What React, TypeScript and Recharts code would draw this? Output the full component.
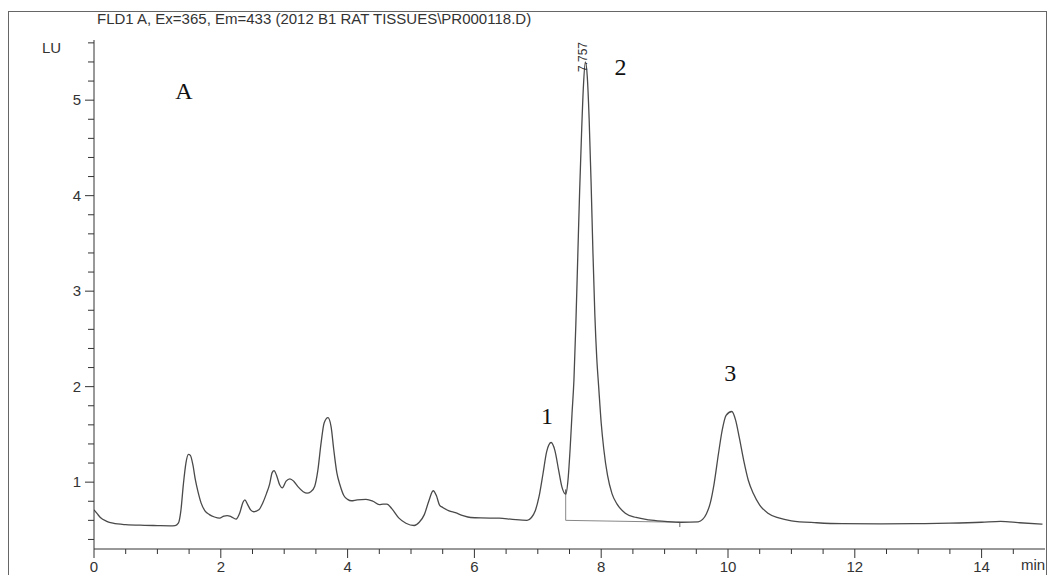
import { LineChart, Line, XAxis, YAxis, ReferenceLine, ReferenceDot } from 'recharts';

// retention time (min) and detector signal (LU)
const times = [
    0.0, 0.05, 0.1, 0.2, 0.3, 0.5, 0.8, 1.0, 1.2, 1.28, 1.33, 1.37, 1.41, 1.45, 1.49, 1.52, 1.56, 1.6, 1.64, 1.69,
    1.75, 1.82, 1.9, 1.98, 2.05, 2.1, 2.16, 2.24, 2.3, 2.35, 2.38, 2.42, 2.47, 2.52, 2.6, 2.66, 2.72, 2.77, 2.81, 2.84,
    2.88, 2.93, 2.97, 3.03, 3.09, 3.15, 3.22, 3.3, 3.36, 3.42, 3.48, 3.53, 3.58, 3.63, 3.69, 3.74, 3.78, 3.83, 3.88, 3.94,
    4.0, 4.06, 4.15, 4.29, 4.4, 4.5, 4.56, 4.62, 4.7, 4.81, 4.92, 5.05, 5.13, 5.21, 5.28, 5.35, 5.4, 5.45, 5.5, 5.6,
    5.7, 5.82, 5.94, 6.1, 6.39, 6.6, 6.83, 6.9, 6.96, 7.02, 7.08, 7.14, 7.21, 7.27, 7.33, 7.38, 7.44, 7.48, 7.51, 7.54,
    7.57, 7.6, 7.63, 7.66, 7.69, 7.72, 7.75, 7.78, 7.81, 7.84, 7.87, 7.9, 7.93, 7.96, 8.0, 8.04, 8.1, 8.17, 8.25, 8.38,
    8.55, 8.75, 9.0, 9.27, 9.53, 9.6, 9.66, 9.72, 9.78, 9.85, 9.91, 9.97, 10.06, 10.12, 10.18, 10.25, 10.32, 10.4, 10.5, 10.63,
    10.8, 11.0, 11.4, 11.8, 12.4, 12.94, 13.5, 14.0, 14.3, 14.6, 14.96,
];
const signal = [
    0.71, 0.67, 0.63, 0.59, 0.57, 0.555, 0.548, 0.545, 0.543, 0.545, 0.57, 0.7, 0.98, 1.2, 1.29, 1.28, 1.18, 1.02, 0.9, 0.78,
    0.7, 0.66, 0.635, 0.623, 0.645, 0.65, 0.64, 0.613, 0.68, 0.79, 0.815, 0.77, 0.71, 0.69, 0.71, 0.78, 0.88, 0.98, 1.1, 1.12,
    1.07, 0.97, 0.94, 1.01, 1.035, 1.01, 0.95, 0.9, 0.885, 0.9, 0.955, 1.12, 1.4, 1.62, 1.675, 1.58, 1.35, 1.1, 0.97, 0.86,
    0.82, 0.805, 0.815, 0.82, 0.8, 0.765, 0.77, 0.77, 0.72, 0.623, 0.57, 0.546, 0.58, 0.66, 0.8, 0.91, 0.86, 0.76, 0.735, 0.7,
    0.68, 0.65, 0.63, 0.625, 0.623, 0.61, 0.6, 0.63, 0.7, 0.85, 1.08, 1.32, 1.415, 1.33, 1.12, 0.95, 0.874, 1.05, 1.35, 1.72,
    2.07, 2.65, 3.35, 4.05, 4.65, 5.15, 5.4, 5.25, 4.8, 4.15, 3.4, 2.75, 2.3, 2.0, 1.62, 1.35, 1.07, 0.88, 0.77, 0.675,
    0.63, 0.605, 0.59, 0.58, 0.585, 0.61, 0.67, 0.78, 0.98, 1.3, 1.55, 1.7, 1.74, 1.65, 1.46, 1.22, 1.02, 0.88, 0.76, 0.675,
    0.625, 0.595, 0.575, 0.565, 0.563, 0.565, 0.57, 0.58, 0.59, 0.575, 0.56,
];

// integration baseline of the 7.757 peak
const baselineTimes = [7.44, 7.44, 9.24];
const baselineValues = [0.874, 0.6, 0.58];

const xMajor = [0, 2, 4, 6, 8, 10, 12, 14];
const xMinor = [0.5, 1, 1.5, 2.5, 3, 3.5, 4.5, 5, 5.5, 6.5, 7, 7.5, 8.5, 9, 9.5, 10.5, 11, 11.5, 12.5, 13, 13.5, 14.5];
const yMajor = [1, 2, 3, 4, 5];
const yMinor = [0.4, 0.6, 0.8, 1.2, 1.4, 1.6, 1.8, 2.2, 2.4, 2.6, 2.8, 3.2, 3.4, 3.6, 3.8, 4.2, 4.4, 4.6, 4.8, 5.2, 5.4, 5.6];

const peakNames = ['A', '1', '2', '3'];
const peakNameTimes = [1.418, 7.145, 8.303, 10.036];
const peakNameValues = [5.106, 1.703, 5.35, 2.148];

const data = times.map((t, i) => ({ t, v: signal[i] }));
const xTicks = [...xMajor, ...xMinor].sort((a, b) => a - b);
const yTicks = [...yMajor, ...yMinor].sort((a, b) => a - b);

const SANS = '"Liberation Sans", Arial, sans-serif';
const SERIF = '"Liberation Serif", "Times New Roman", serif';

function XTick({ x, y, payload }: any) {
    const major = xMajor.includes(payload.value);
    return (
        <g>
            <line x1={x} x2={x} y1={y} y2={y + (major ? 9 : 5)} stroke="#333" />
            {major && (
                <text x={x} y={y + 23} textAnchor="middle" fontSize={15} fill="#333" fontFamily={SANS}>
                    {payload.value}
                </text>
            )}
        </g>
    );
}

function YTick({ x, y, payload }: any) {
    const major = yMajor.includes(payload.value);
    return (
        <g>
            <line x1={x - (major ? 9 : 6)} x2={x} y1={y} y2={y} stroke="#333" />
            {major && (
                <text x={x - 13} y={y + 5} textAnchor="end" fontSize={15} fill="#333" fontFamily={SANS}>
                    {payload.value}
                </text>
            )}
        </g>
    );
}

export default function App() {
    return (
        <div style={{ position: 'relative', width: 1050, height: 575, overflow: 'hidden', background: '#fff' }}>
            <style>{`body{margin:0;overflow:hidden}`}</style>
            <div
                style={{
                    position: 'absolute', left: 8, top: 11, width: 1037, height: 600,
                    borderLeft: '1px solid #666', borderTop: '1px solid #666', borderRight: '1px solid #666',
                }}
            />
            <div style={{ position: 'absolute', left: 97, top: 10, fontSize: 15, color: '#333', fontFamily: SANS, whiteSpace: 'nowrap' }}>
                FLD1 A, Ex=365, Em=433 (2012 B1 RAT TISSUES\PR000118.D)
            </div>
            <div style={{ position: 'absolute', left: 42, top: 39, fontSize: 15, color: '#333', fontFamily: SANS }}>LU</div>
            <div style={{ position: 'absolute', left: 1021, top: 556, fontSize: 15, color: '#333', fontFamily: SANS }}>min</div>
            <div style={{ position: 'absolute', left: 0, top: 0 }}>
                <LineChart width={1050} height={575} data={data} margin={{ top: 40, right: 5, bottom: 0, left: 0 }}>
                    <XAxis
                        dataKey="t" type="number" domain={[0, 15]} ticks={xTicks} interval={0}
                        tickSize={0} tickMargin={0} tickLine={false} tick={<XTick />}
                        height={26} stroke="#333" allowDataOverflow
                    />
                    <YAxis
                        type="number" domain={[0.3, 5.63]} ticks={yTicks} interval={0}
                        tickSize={0} tickMargin={0} tickLine={false} tick={<YTick />}
                        width={94} stroke="#333" allowDataOverflow
                    />
                    <ReferenceLine
                        segment={[{ x: baselineTimes[0], y: baselineValues[0] }, { x: baselineTimes[1], y: baselineValues[1] }]}
                        stroke="#888"
                    />
                    <ReferenceLine
                        segment={[{ x: baselineTimes[1], y: baselineValues[1] }, { x: baselineTimes[2], y: baselineValues[2] }]}
                        stroke="#888"
                    />
                    <ReferenceLine
                        segment={[{ x: baselineTimes[2], y: baselineValues[2] }, { x: baselineTimes[2], y: baselineValues[2] - 0.05 }]}
                        stroke="#666"
                    />
                    <ReferenceLine
                        segment={[{ x: baselineTimes[0], y: baselineValues[0] }, { x: baselineTimes[0], y: baselineValues[0] + 0.05 }]}
                        stroke="#444"
                    />
                    <Line
                        type="monotone" dataKey="v" stroke="#4a4a4a" strokeWidth={1.3}
                        dot={false} isAnimationActive={false}
                    />
                    <ReferenceDot
                        x={7.712} y={5.452} r={0}
                        label={(p: any) => {
                            const cx = p.viewBox.x + (p.viewBox.width || 0) / 2;
                            const cy = p.viewBox.y + (p.viewBox.height || 0) / 2;
                            return (
                                <text
                                    x={cx} y={cy} transform={`rotate(-90 ${cx} ${cy})`} textAnchor="middle" dy={4}
                                    fontSize={12} fill="#333" fontFamily={SANS}
                                >
                                    7.757
                                </text>
                            );
                        }}
                    />
                    {peakNames.map((name, i) => (
                        <ReferenceDot
                            key={name} x={peakNameTimes[i]} y={peakNameValues[i]} r={0}
                            label={{ value: name, position: 'center', fontSize: 24, fill: '#111', fontFamily: SERIF }}
                        />
                    ))}
                </LineChart>
            </div>
        </div>
    );
}
